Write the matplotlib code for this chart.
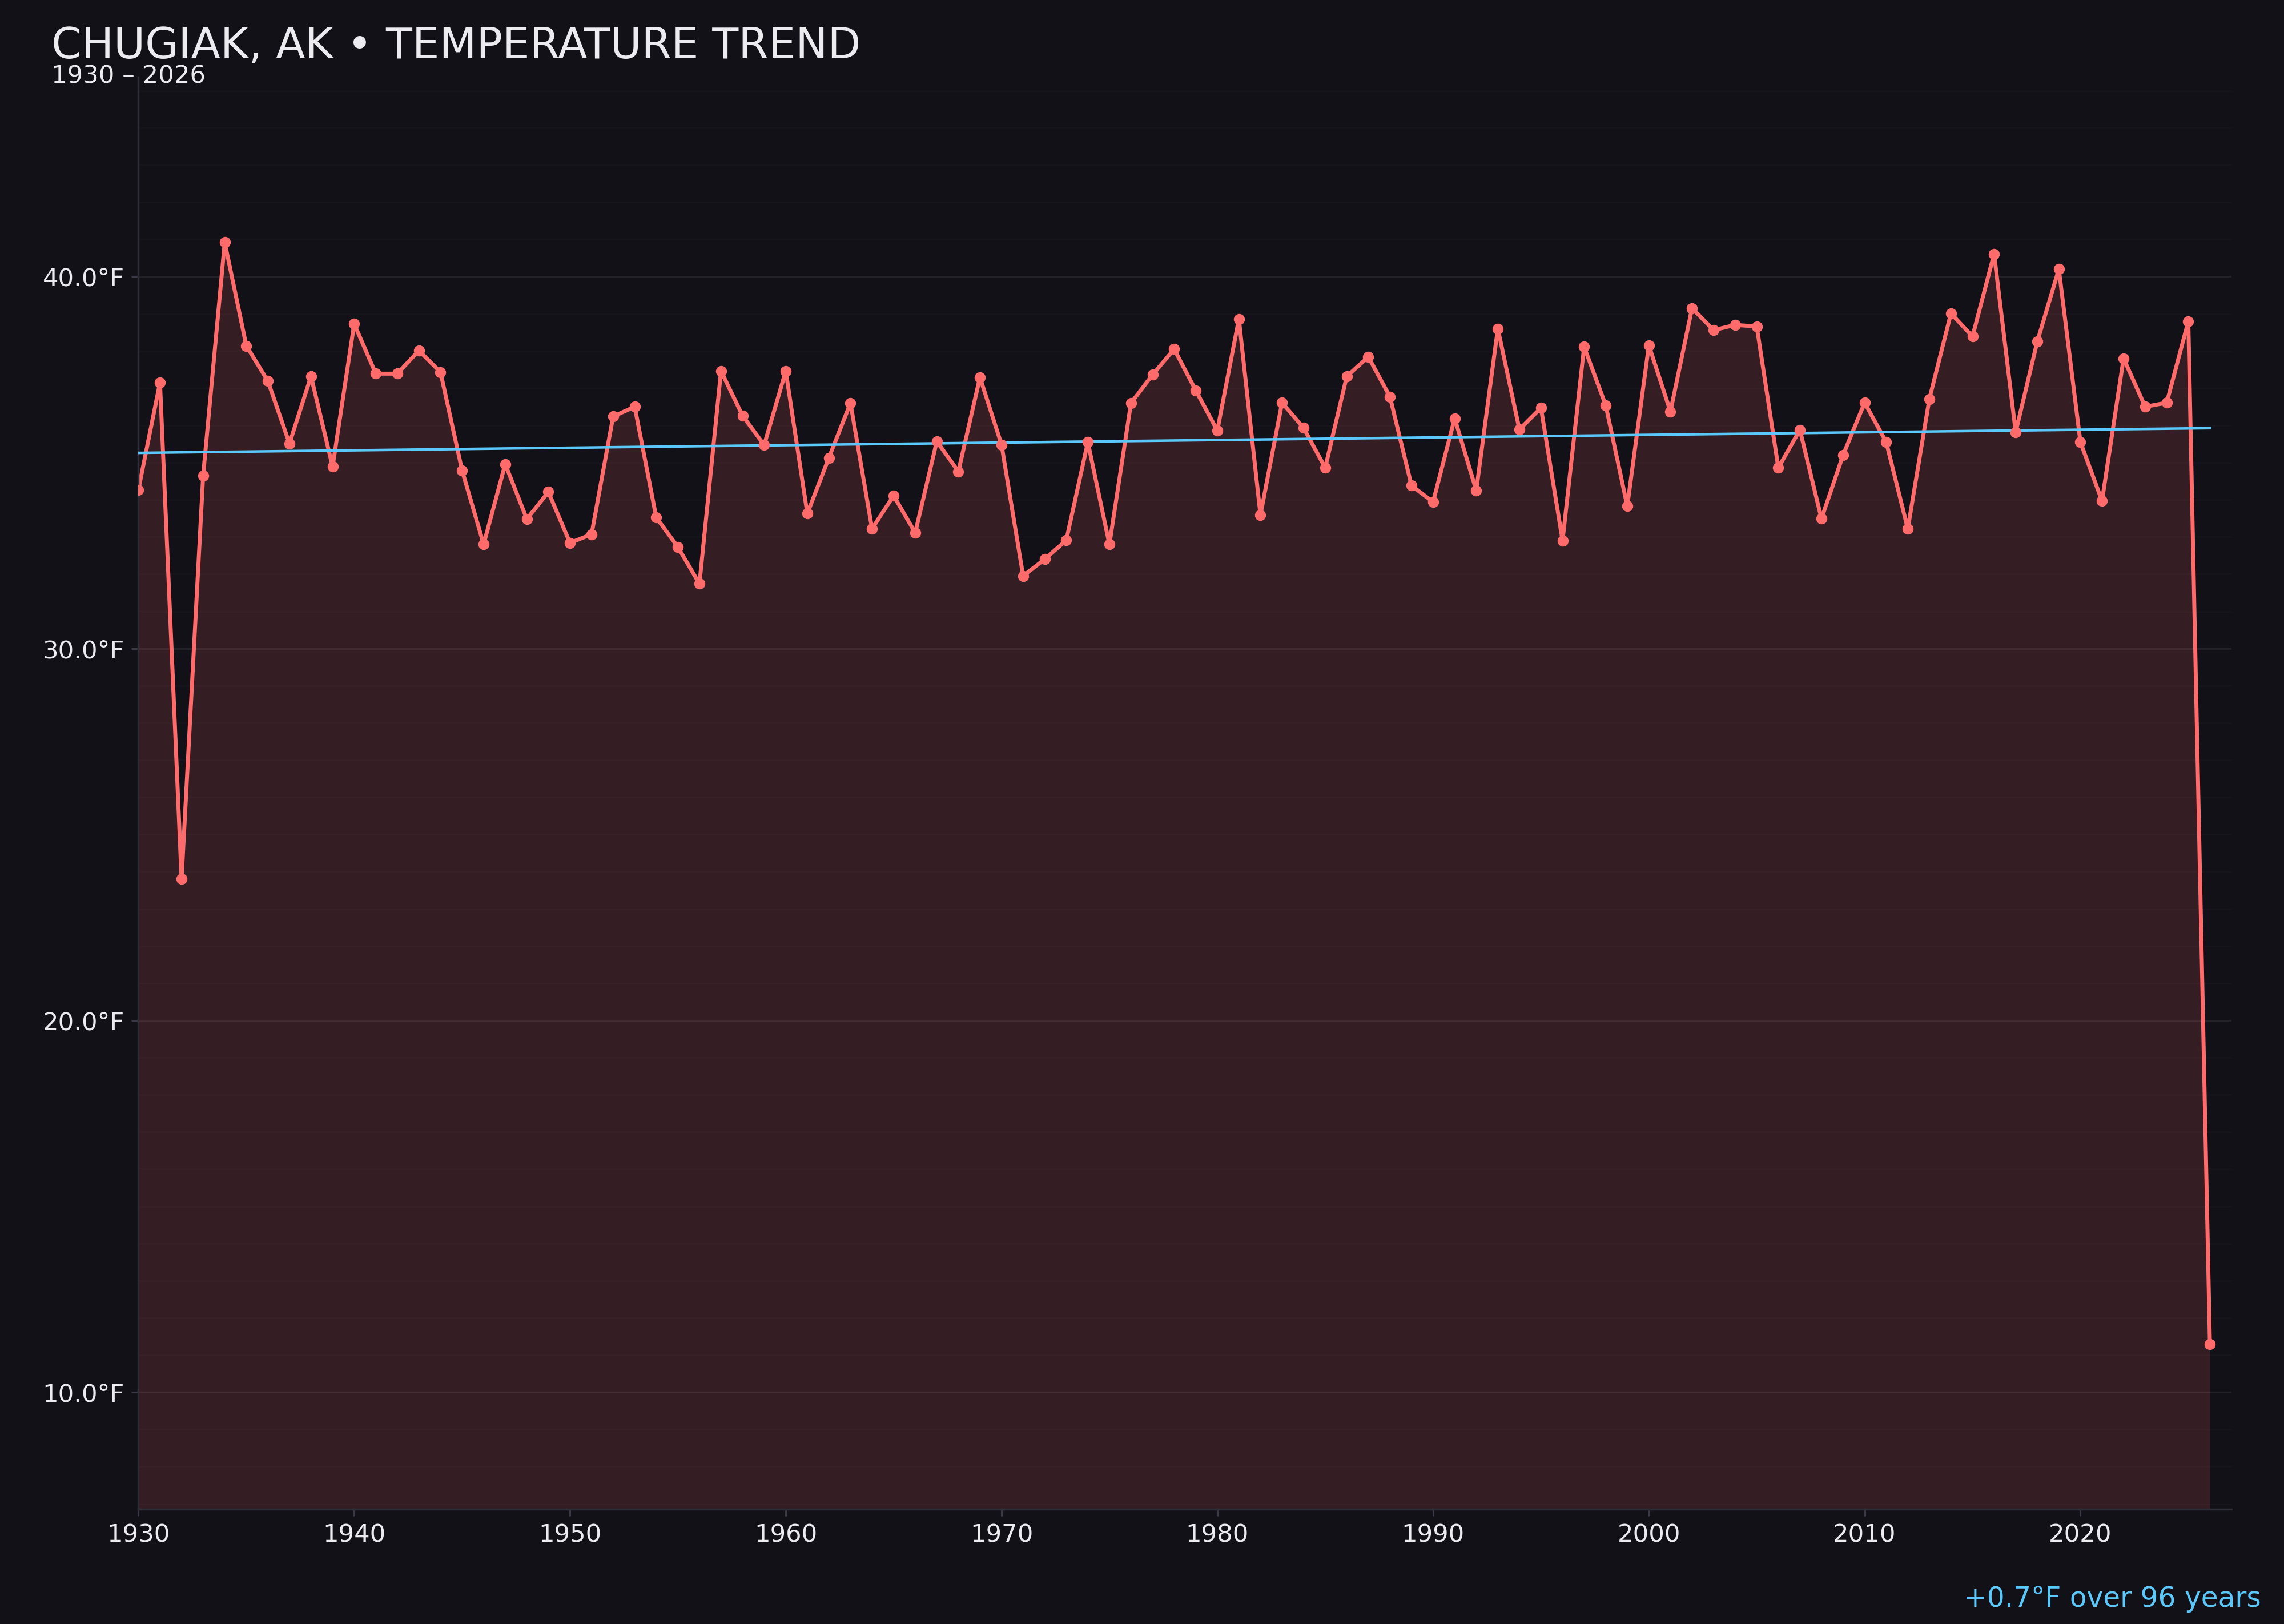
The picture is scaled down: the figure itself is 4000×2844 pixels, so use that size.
import numpy as np
import matplotlib
matplotlib.use("Agg")
import matplotlib.pyplot as plt
from matplotlib.ticker import MultipleLocator, FuncFormatter

years = list(range(1930, 2027))
temps = [
    34.27, 37.15, 23.80, 34.65, 40.92, 38.14, 37.19, 35.51, 37.32, 34.89,  # 1930s
    38.73, 37.39, 37.39, 38.01, 37.43, 34.79, 32.80, 34.96, 33.48, 34.21,  # 1940s
    32.84, 33.07, 36.24, 36.50, 33.52, 32.73, 31.74, 37.46, 36.26, 35.47,  # 1950s
    37.46, 33.63, 35.13, 36.60, 33.22, 34.11, 33.11, 35.57, 34.76, 37.29,  # 1960s
    35.48, 31.95, 32.40, 32.91, 35.55, 32.80, 36.60, 37.36, 38.05, 36.94,  # 1970s
    35.86, 38.86, 33.59, 36.61, 35.93, 34.86, 37.32, 37.84, 36.77, 34.38,  # 1980s
    33.94, 36.19, 34.25, 38.60, 35.89, 36.47, 32.90, 38.11, 36.54, 33.83,  # 1990s
    38.15, 36.37, 39.15, 38.56, 38.70, 38.66, 34.86, 35.88, 33.49, 35.20,  # 2000s
    36.61, 35.55, 33.22, 36.71, 39.01, 38.39, 40.61, 35.82, 38.25, 40.20,  # 2010s
    35.55, 33.97, 37.80, 36.50, 36.61, 38.80, 11.30,                      # 2020s
]

title = "CHUGIAK, AK \u2022 TEMPERATURE TREND"
subtitle = "1930 \u2013 2026"
footer = "+0.7\u00b0F over 96 years"

BG = "#121117"
LINE = "#ff6b6b"
TREND = "#5ac8fa"
TEXT = "#ececf0"

x = np.array(years, dtype=float)
y = np.array(temps, dtype=float)

fig = plt.figure(figsize=(16, 11.376), dpi=250, facecolor=BG)
ax = fig.add_axes([0.0606, 0.0707, 0.977 - 0.0606, 0.9525 - 0.0707])
ax.set_facecolor(BG)

span = y.max() - y.min()
ymin = y.min() - 0.15 * span
ymax = y.max() + 0.15 * span
ax.set_ylim(ymin, ymax)
ax.set_xlim(x[0], x[-1] + 1)

ax.fill_between(x, y, ymin, color=LINE, alpha=0.15, linewidth=0, zorder=1)
ax.plot(x, y, color=LINE, linewidth=2.0, zorder=2)

coef = np.polyfit(x, y, 1)
ax.plot(x, np.polyval(coef, x), color=TREND, linewidth=1.3, zorder=3)

ax.scatter(x, y, s=5.6 ** 2, color=LINE, zorder=4, linewidths=0)

ax.yaxis.set_major_locator(MultipleLocator(10))
ax.yaxis.set_minor_locator(MultipleLocator(1))
ax.yaxis.set_major_formatter(FuncFormatter(lambda v, p: f"{v:.1f}\u00b0F"))
ax.xaxis.set_major_locator(MultipleLocator(10))
ax.xaxis.set_major_formatter(FuncFormatter(lambda v, p: f"{int(round(v))}"))

ax.grid(axis="y", which="major", color="white", alpha=0.07, linewidth=0.9)
ax.grid(axis="y", which="minor", color="white", alpha=0.02, linewidth=0.8)
ax.grid(axis="x", visible=False)
ax.set_axisbelow(True)

for s in ["top", "right"]:
    ax.spines[s].set_visible(False)
for s in ["left", "bottom"]:
    ax.spines[s].set_color("#2e2e38")
    ax.spines[s].set_linewidth(1.0)

ax.tick_params(axis="both", which="major", colors="#3a3a46", labelcolor=TEXT,
               labelsize=12.5, length=3.5, width=0.9)
ax.tick_params(axis="both", which="minor", length=0)

fig.text(0.0225, 0.964, title, color=TEXT, fontsize=21.7, ha="left", va="baseline")
fig.text(0.0225, 0.949, subtitle, color=TEXT, fontsize=12.5, ha="left", va="baseline")
fig.text(0.990, 0.0105, footer, color=TREND, fontsize=14, ha="right", va="baseline")

fig.savefig("out.png", dpi=250, facecolor=BG)
